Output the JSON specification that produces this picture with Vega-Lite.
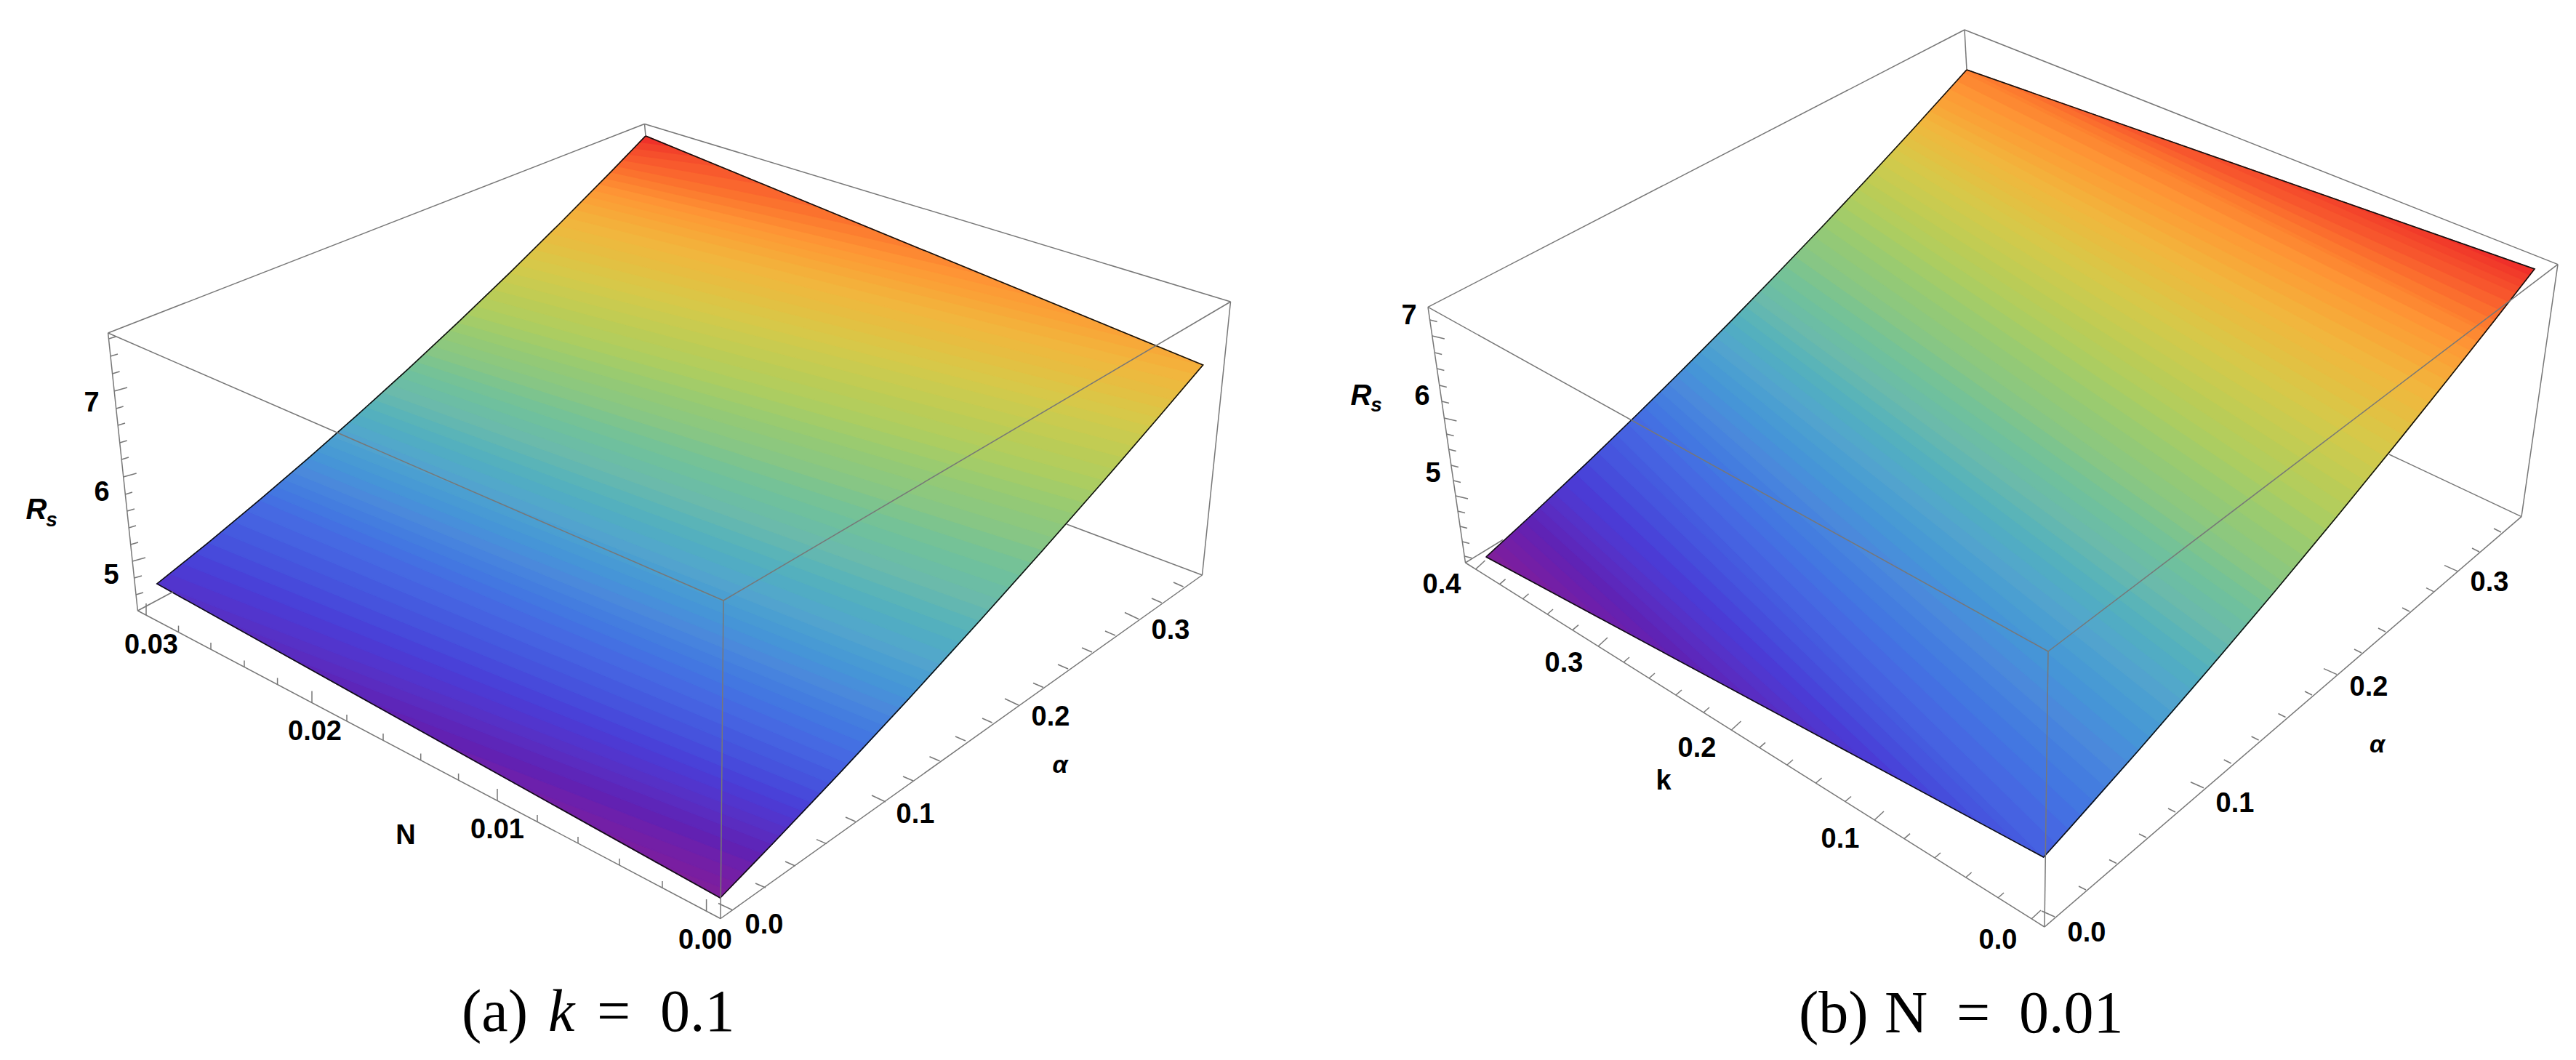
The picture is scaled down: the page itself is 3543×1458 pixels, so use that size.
{"$schema":"https://vega.github.io/schema/vega-lite/v6.json","width":3543,"height":1458,"autosize":{"type":"fit","contains":"padding"},"padding":0,"background":"white","view":{"stroke":null},
"datasets":{
"surface":[
{"p":"a","v":0.008,"x":[990.6,900.7,1001.4,990.6],"y":[1235,1185.2,1223.9,1235]},
{"p":"a","v":0.023,"x":[900.7,811.4,1012.1,1001.4],"y":[1185.2,1135.3,1212.9,1223.9]},
{"p":"a","v":0.039,"x":[811.4,707.2,1024.7,1012.1],"y":[1135.3,1077.2,1199.9,1212.9]},
{"p":"a","v":0.056,"x":[707.2,603,1037.3,1024.7],"y":[1077.2,1019,1186.8,1199.9]},
{"p":"a","v":0.074,"x":[603,498.8,1049.8,1037.3],"y":[1019,960.9,1173.9,1186.8]},
{"p":"a","v":0.091,"x":[498.8,394.6,1062.4,1049.8],"y":[960.9,902.7,1160.8,1173.9]},
{"p":"a","v":0.108,"x":[394.6,305.3,1073.1,1062.4],"y":[902.7,852.9,1149.6,1160.8]},
{"p":"a","v":0.123,"x":[305.3,216,1083.9,1073.1],"y":[852.9,803,1138.3,1149.6]},
{"p":"a","v":0.138,"x":[216,233.6,1094.7,1083.9],"y":[803,789,1126.9,1138.3]},
{"p":"a","v":0.153,"x":[233.6,251.3,1105.4,1094.7],"y":[789,774.8,1115.7,1126.9]},
{"p":"a","v":0.168,"x":[251.3,269,1116.8,1105.4],"y":[774.8,760.5,1103.7,1115.7]},
{"p":"a","v":0.183,"x":[269,286.5,1129.4,1116.8],"y":[760.5,746.3,1090.4,1103.7]},
{"p":"a","v":0.198,"x":[286.5,304.1,1142,1129.4],"y":[746.3,731.8,1077,1090.4]},
{"p":"a","v":0.213,"x":[304.1,321.8,1154.6,1142],"y":[731.8,717.2,1063.6,1077]},
{"p":"a","v":0.228,"x":[321.8,339.4,1167.2,1154.6],"y":[717.2,702.5,1050.2,1063.6]},
{"p":"a","v":0.243,"x":[339.4,357,1179.8,1167.2],"y":[702.5,687.7,1036.8,1050.2]},
{"p":"a","v":0.258,"x":[357,368.3,1192.4,1179.8],"y":[687.7,678.1,1023.2,1036.8]},
{"p":"a","v":0.273,"x":[368.3,379.5,1205,1192.4],"y":[678.1,668.6,1009.7,1023.2]},
{"p":"a","v":0.288,"x":[379.5,390.8,1216.1,1205],"y":[668.6,658.9,997.7,1009.7]},
{"p":"a","v":0.303,"x":[390.8,402,1227.3,1216.1],"y":[658.9,649.3,985.6,997.7]},
{"p":"a","v":0.318,"x":[402,413.3,1238.4,1227.3],"y":[649.3,639.6,973.7,985.6]},
{"p":"a","v":0.333,"x":[413.3,424.5,1249.5,1238.4],"y":[639.6,629.8,961.6,973.7]},
{"p":"a","v":0.348,"x":[424.5,435.8,1260.7,1249.5],"y":[629.8,620,949.4,961.6]},
{"p":"a","v":0.363,"x":[435.8,447,1271.8,1260.7],"y":[620,610.2,937.3,949.4]},
{"p":"a","v":0.378,"x":[447,458.3,1282.9,1271.8],"y":[610.2,600.3,925.1,937.3]},
{"p":"a","v":0.393,"x":[458.3,469.6,1294,1282.9],"y":[600.3,590.2,913,925.1]},
{"p":"a","v":0.408,"x":[469.6,481,1307.4,1294],"y":[590.2,580.1,898.3,913]},
{"p":"a","v":0.423,"x":[481,492.5,1320.9,1307.4],"y":[580.1,569.9,883.4,898.3]},
{"p":"a","v":0.438,"x":[492.5,503.9,1334.3,1320.9],"y":[569.9,559.7,868.6,883.4]},
{"p":"a","v":0.453,"x":[503.9,515.2,1347.8,1334.3],"y":[559.7,549.5,853.5,868.6]},
{"p":"a","v":0.468,"x":[515.2,526.7,1361.2,1347.8],"y":[549.5,539.1,838.7,853.5]},
{"p":"a","v":0.483,"x":[526.7,538,1374.6,1361.2],"y":[539.1,528.8,823.8,838.7]},
{"p":"a","v":0.498,"x":[538,549.6,1388.7,1374.6],"y":[528.8,518.2,808,823.8]},
{"p":"a","v":0.513,"x":[549.6,561,1404,1388.7],"y":[518.2,507.8,790.8,808]},
{"p":"a","v":0.528,"x":[561,572.6,1419.3,1404],"y":[507.8,497.1,773.6,790.8]},
{"p":"a","v":0.543,"x":[572.6,584,1434.5,1419.3],"y":[497.1,486.5,756.5,773.6]},
{"p":"a","v":0.558,"x":[584,595.7,1449.8,1434.5],"y":[486.5,475.6,739.1,756.5]},
{"p":"a","v":0.573,"x":[595.7,607,1465,1449.8],"y":[475.6,465.1,721.9,739.1]},
{"p":"a","v":0.588,"x":[607,618.8,1478.5,1465],"y":[465.1,453.9,706.5,721.9]},
{"p":"a","v":0.603,"x":[618.8,630,1492,1478.5],"y":[453.9,443.3,691.2,706.5]},
{"p":"a","v":0.618,"x":[630,642,1505.5,1492],"y":[443.3,432,675.6,691.2]},
{"p":"a","v":0.633,"x":[642,654,1519,1505.5],"y":[432,420.5,660.2,675.6]},
{"p":"a","v":0.648,"x":[654,666,1532.5,1519],"y":[420.5,409.1,644.6,660.2]},
{"p":"a","v":0.663,"x":[666,678,1546,1532.5],"y":[409.1,397.5,629,644.6]},
{"p":"a","v":0.678,"x":[678,689.8,1559.5,1546],"y":[397.5,386.1,613.3,629]},
{"p":"a","v":0.693,"x":[689.8,701.5,1573,1559.5],"y":[386.1,374.8,597.7,613.3]},
{"p":"a","v":0.708,"x":[701.5,712.5,1583.2,1573],"y":[374.8,364.1,585.8,597.7]},
{"p":"a","v":0.723,"x":[712.5,723.5,1593.4,1583.2],"y":[364.1,353.3,573.9,585.8]},
{"p":"a","v":0.738,"x":[723.5,734.6,1603.6,1593.4],"y":[353.3,342.5,562,573.9]},
{"p":"a","v":0.753,"x":[734.6,745.6,1613.8,1603.6],"y":[342.5,331.5,550,562]},
{"p":"a","v":0.768,"x":[745.6,756.6,1624,1613.8],"y":[331.5,320.6,538.1,550]},
{"p":"a","v":0.783,"x":[756.6,767.6,1634.2,1624],"y":[320.6,309.7,526,538.1]},
{"p":"a","v":0.798,"x":[767.6,778.7,1644.4,1634.2],"y":[309.7,298.6,514.1,526]},
{"p":"a","v":0.813,"x":[778.7,789.7,1654.6,1644.4],"y":[298.6,287.6,502,514.1]},
{"p":"a","v":0.828,"x":[789.7,799.7,1578,1654.6],"y":[287.6,277.5,470.5,502]},
{"p":"a","v":0.843,"x":[799.7,807.7,1501.8,1578],"y":[277.5,269.5,439.2,470.5]},
{"p":"a","v":0.858,"x":[807.7,815.7,1425.4,1501.8],"y":[269.5,261.3,407.8,439.2]},
{"p":"a","v":0.873,"x":[815.7,824,1350,1425.4],"y":[261.3,252.8,376.8,407.8]},
{"p":"a","v":0.888,"x":[824,832,1275,1350],"y":[252.8,244.7,346,376.8]},
{"p":"a","v":0.903,"x":[832,840,1200,1275],"y":[244.7,236.6,315.2,346]},
{"p":"a","v":0.918,"x":[840,848,1125,1200],"y":[236.6,228.4,284.4,315.2]},
{"p":"a","v":0.933,"x":[848,856,1050,1125],"y":[228.4,220.1,253.6,284.4]},
{"p":"a","v":0.948,"x":[856,864,988.8,1050],"y":[220.1,211.9,228.4,253.6]},
{"p":"a","v":0.963,"x":[864,872,955.2,988.8],"y":[211.9,203.7,214.6,228.4]},
{"p":"a","v":0.978,"x":[872,880,921.6,955.2],"y":[203.7,195.3,200.8,214.6]},
{"p":"a","v":0.993,"x":[880,888,888,921.6],"y":[195.3,187,187,200.8]},
{"p":"b","v":0.008,"x":[2044,2054.5,2096.3,2044],"y":[766,756.4,794.2,766]},
{"p":"b","v":0.023,"x":[2054.5,2065,2148.6,2096.3],"y":[756.4,746.8,822.3,794.2]},
{"p":"b","v":0.038,"x":[2065,2075.5,2200.8,2148.6],"y":[746.8,737.1,850.5,822.3]},
{"p":"b","v":0.053,"x":[2075.5,2086,2253.1,2200.8],"y":[737.1,727.5,878.6,850.5]},
{"p":"b","v":0.068,"x":[2086,2096.5,2305.4,2253.1],"y":[727.5,717.8,906.8,878.6]},
{"p":"b","v":0.083,"x":[2096.5,2107,2357.7,2305.4],"y":[717.8,708,934.9,906.8]},
{"p":"b","v":0.098,"x":[2107,2117.5,2409.9,2357.7],"y":[708,698.3,963.1,934.9]},
{"p":"b","v":0.113,"x":[2117.5,2128,2462.2,2409.9],"y":[698.3,688.4,991.2,963.1]},
{"p":"b","v":0.128,"x":[2128,2138.5,2514.5,2462.2],"y":[688.4,678.5,1019.4,991.2]},
{"p":"b","v":0.143,"x":[2138.5,2152.2,2566.8,2514.5],"y":[678.5,665.7,1047.6,1019.4]},
{"p":"b","v":0.158,"x":[2152.2,2167.5,2619,2566.8],"y":[665.7,651.1,1075.7,1047.6]},
{"p":"b","v":0.173,"x":[2167.5,2182.8,2671.3,2619],"y":[651.1,636.6,1103.9,1075.7]},
{"p":"b","v":0.188,"x":[2182.8,2198.1,2723.6,2671.3],"y":[636.6,622,1132,1103.9]},
{"p":"b","v":0.203,"x":[2198.1,2213.4,2775.9,2723.6],"y":[622,607.2,1160.2,1132]},
{"p":"b","v":0.215,"x":[2213.4,2223.6,2810.7,2775.9],"y":[607.2,597.4,1179,1160.2]},
{"p":"b","v":0.228,"x":[2223.6,2238.9,2828,2810.7],"y":[597.4,582.6,1159.9,1179]},
{"p":"b","v":0.243,"x":[2238.9,2251.3,2845.4,2828],"y":[582.6,570.5,1140.4,1159.9]},
{"p":"b","v":0.258,"x":[2251.3,2262.2,2862.7,2845.4],"y":[570.5,559.9,1121.1,1140.4]},
{"p":"b","v":0.273,"x":[2262.2,2273.2,2880,2862.7],"y":[559.9,549.1,1101.7,1121.1]},
{"p":"b","v":0.288,"x":[2273.2,2284.1,2896.7,2880],"y":[549.1,538.4,1082.8,1101.7]},
{"p":"b","v":0.303,"x":[2284.1,2295,2911.9,2896.7],"y":[538.4,527.6,1065.6,1082.8]},
{"p":"b","v":0.318,"x":[2295,2305.9,2927.1,2911.9],"y":[527.6,516.8,1048.4,1065.6]},
{"p":"b","v":0.333,"x":[2305.9,2316.8,2942.3,2927.1],"y":[516.8,505.9,1031,1048.4]},
{"p":"b","v":0.348,"x":[2316.8,2327.8,2957.5,2942.3],"y":[505.9,495.1,1013.7,1031]},
{"p":"b","v":0.363,"x":[2327.8,2338.7,2972.7,2957.5],"y":[495.1,484.1,996.2,1013.7]},
{"p":"b","v":0.378,"x":[2338.7,2349.4,2987.9,2972.7],"y":[484.1,473.4,978.7,996.2]},
{"p":"b","v":0.393,"x":[2349.4,2359.7,3001.6,2987.9],"y":[473.4,463,962.8,978.7]},
{"p":"b","v":0.408,"x":[2359.7,2370,3014.5,3001.6],"y":[463,452.6,948,962.8]},
{"p":"b","v":0.423,"x":[2370,2380.3,3027.4,3014.5],"y":[452.6,442.1,932.9,948]},
{"p":"b","v":0.438,"x":[2380.3,2390.6,3040.3,3027.4],"y":[442.1,431.6,917.8,932.9]},
{"p":"b","v":0.453,"x":[2390.6,2400.9,3053.2,3040.3],"y":[431.6,421.1,902.7,917.8]},
{"p":"b","v":0.468,"x":[2400.9,2411.2,3066.1,3053.2],"y":[421.1,410.6,887.6,902.7]},
{"p":"b","v":0.483,"x":[2411.2,2421.4,3079,3066.1],"y":[410.6,400.1,872.4,887.6]},
{"p":"b","v":0.498,"x":[2421.4,2431.7,3091.3,3079],"y":[400.1,389.5,857.9,872.4]},
{"p":"b","v":0.513,"x":[2431.7,2442,3103.6,3091.3],"y":[389.5,378.8,843.3,857.9]},
{"p":"b","v":0.528,"x":[2442,2455.1,3115.8,3103.6],"y":[378.8,365.3,828.8,843.3]},
{"p":"b","v":0.543,"x":[2455.1,2468.2,3128.1,3115.8],"y":[365.3,351.6,814.2,828.8]},
{"p":"b","v":0.558,"x":[2468.2,2481.3,3140.4,3128.1],"y":[351.6,337.9,799.5,814.2]},
{"p":"b","v":0.573,"x":[2481.3,2494.4,3154.6,3140.4],"y":[337.9,324.2,782.5,799.5]},
{"p":"b","v":0.588,"x":[2494.4,2507.5,3169.7,3154.6],"y":[324.2,310.5,764.4,782.5]},
{"p":"b","v":0.603,"x":[2507.5,2520.5,3184.9,3169.7],"y":[310.5,296.7,746.1,764.4]},
{"p":"b","v":0.618,"x":[2520.5,2533.6,3200,3184.9],"y":[296.7,282.8,727.8,746.1]},
{"p":"b","v":0.633,"x":[2533.6,2545,3214,3200],"y":[282.8,270.6,710.8,727.8]},
{"p":"b","v":0.648,"x":[2545,2555.6,3227.5,3214],"y":[270.6,259.3,694.4,710.8]},
{"p":"b","v":0.663,"x":[2555.6,2566.2,3241,3227.5],"y":[259.3,248,677.8,694.4]},
{"p":"b","v":0.678,"x":[2566.2,2576.8,3254.5,3241],"y":[248,236.6,661.3,677.8]},
{"p":"b","v":0.693,"x":[2576.8,2587.4,3268,3254.5],"y":[236.6,225.1,644.7,661.3]},
{"p":"b","v":0.708,"x":[2587.4,2598,3281.5,3268],"y":[225.1,213.7,628.1,644.7]},
{"p":"b","v":0.723,"x":[2598,2606.8,3294,3281.5],"y":[213.7,204.2,612.6,628.1]},
{"p":"b","v":0.738,"x":[2606.8,2614.7,3306,3294],"y":[204.2,195.5,597.7,612.6]},
{"p":"b","v":0.753,"x":[2614.7,2622.7,3318,3306],"y":[195.5,186.9,582.9,597.7]},
{"p":"b","v":0.768,"x":[2622.7,2630.6,3330,3318],"y":[186.9,178.3,567.9,582.9]},
{"p":"b","v":0.783,"x":[2630.6,2638.6,3342,3330],"y":[178.3,169.5,552.9,567.9]},
{"p":"b","v":0.798,"x":[2638.6,2646.5,3354,3342],"y":[169.5,160.8,537.9,552.9]},
{"p":"b","v":0.813,"x":[2646.5,2654.4,3366,3354],"y":[160.8,152,522.8,537.9]},
{"p":"b","v":0.828,"x":[2654.4,2662.4,3378,3366],"y":[152,143.3,507.6,522.8]},
{"p":"b","v":0.843,"x":[2662.4,2671.7,3388.6,3378],"y":[143.3,133,494.3,507.6]},
{"p":"b","v":0.858,"x":[2671.7,2681.7,3398.5,3388.6],"y":[133,122,481.8,494.3]},
{"p":"b","v":0.873,"x":[2681.7,2691.7,3408.4,3398.5],"y":[122,110.9,469.2,481.8]},
{"p":"b","v":0.888,"x":[2691.7,2701.7,3418.3,3408.4],"y":[110.9,99.7,456.7,469.2]},
{"p":"b","v":0.898,"x":[2701.7,2705,3421.6,3418.3],"y":[99.7,96,452.6,456.7]},
{"p":"b","v":0.908,"x":[2705,2763.5,3431.5,3421.6],"y":[96,116.5,439.9,452.6]},
{"p":"b","v":0.923,"x":[2763.5,2822,3441.4,3431.5],"y":[116.5,137,427.3,439.9]},
{"p":"b","v":0.938,"x":[2822,2880.5,3451.2,3441.4],"y":[137,157.6,414.7,427.3]},
{"p":"b","v":0.953,"x":[2880.5,3008.9,3460.7,3451.2],"y":[157.6,202.6,402.6,414.7]},
{"p":"b","v":0.965,"x":[3008.9,3117.7,3467,3460.7],"y":[202.6,240.8,394.4,402.6]},
{"p":"b","v":0.975,"x":[3117.7,3226.6,3473.4,3467],"y":[240.8,279,386.3,394.4]},
{"p":"b","v":0.985,"x":[3226.6,3349,3479.7,3473.4],"y":[279,321.9,378.1,386.3]},
{"p":"b","v":0.995,"x":[3349,3486,3486,3479.7],"y":[321.9,370,370,378.1]}
],
"edges":[
{"p":"a","x":990.6,"y":1235},{"p":"a","x":216,"y":803},{"p":"a","x":286.5,"y":746.3},{"p":"a","x":357,"y":687.7},{"p":"a","x":424.5,"y":629.8},{"p":"a","x":492.5,"y":569.9},{"p":"a","x":561,"y":507.8},{"p":"a","x":630,"y":443.3},{"p":"a","x":701.5,"y":374.8},{"p":"a","x":767.6,"y":309.7},{"p":"a","x":840,"y":236.6},{"p":"a","x":888,"y":187},{"p":"a","x":1654.6,"y":502},{"p":"a","x":1593.4,"y":573.9},{"p":"a","x":1519,"y":660.2},{"p":"a","x":1434.5,"y":756.5},{"p":"a","x":1347.8,"y":853.5},{"p":"a","x":1249.5,"y":961.6},{"p":"a","x":1154.6,"y":1063.6},{"p":"a","x":1062.4,"y":1160.8},{"p":"a","x":990.6,"y":1235},
{"p":"b","x":2044,"y":766},{"p":"b","x":2107,"y":708},{"p":"b","x":2182.8,"y":636.6},{"p":"b","x":2251.3,"y":570.5},{"p":"b","x":2316.8,"y":505.9},{"p":"b","x":2380.3,"y":442.1},{"p":"b","x":2442,"y":378.8},{"p":"b","x":2507.5,"y":310.5},{"p":"b","x":2566.2,"y":248},{"p":"b","x":2630.6,"y":178.3},{"p":"b","x":2705,"y":96},{"p":"b","x":3486,"y":370},{"p":"b","x":3431.5,"y":439.9},{"p":"b","x":3366,"y":522.8},{"p":"b","x":3294,"y":612.6},{"p":"b","x":3214,"y":710.8},{"p":"b","x":3128.1,"y":814.2},{"p":"b","x":3040.3,"y":917.8},{"p":"b","x":2942.3,"y":1031},{"p":"b","x":2845.4,"y":1140.4},{"p":"b","x":2810.7,"y":1179},{"p":"b","x":2044,"y":766}
],
"wire":[
{"x":886.5,"y":170.5,"x2":148.6,"y2":458},{"x":886.5,"y":170.5,"x2":1692.5,"y2":415},{"x":886.5,"y":170.5,"x2":888,"y2":187},{"x":148.6,"y":458,"x2":995,"y2":826},{"x":1692.5,"y":415,"x2":995,"y2":826},{"x":995,"y":826,"x2":991,"y2":1263.5},{"x":148.6,"y":458,"x2":189.4,"y2":840},{"x":1692.5,"y":415,"x2":1653.5,"y2":791},{"x":189.4,"y":840,"x2":991,"y2":1263.5},{"x":991,"y":1263.5,"x2":1653.5,"y2":791},{"x":1653.5,"y":791,"x2":1467,"y2":721},{"x":189.4,"y":840,"x2":238,"y2":814},
{"x":2702,"y":41,"x2":1964,"y2":422.4},{"x":2702,"y":41,"x2":3518,"y2":363.6},{"x":2702,"y":41,"x2":2705,"y2":96},{"x":1964,"y":422.4,"x2":2817,"y2":896},{"x":3518,"y":363.6,"x2":2817,"y2":896},{"x":2817,"y":896,"x2":2812,"y2":1275},{"x":1964,"y":422.4,"x2":2015.5,"y2":774},{"x":3518,"y":363.6,"x2":3468,"y2":710.6},{"x":2015.5,"y":774,"x2":2812,"y2":1275},{"x":2812,"y":1275,"x2":3468,"y2":710.6},{"x":3468,"y":710.6,"x2":3286,"y2":625},{"x":2015.5,"y":774,"x2":2067,"y2":742.5},
{"x":201,"y":846,"x2":201,"y2":830},{"x":245.5,"y":869.6,"x2":245.5,"y2":860.6},{"x":290,"y":893,"x2":290,"y2":884},{"x":336,"y":917.4,"x2":336,"y2":908.4},{"x":381.6,"y":941.5,"x2":381.6,"y2":932.5},{"x":429,"y":966.5,"x2":429,"y2":950.5},{"x":477,"y":992,"x2":477,"y2":983},{"x":527,"y":1018,"x2":527,"y2":1009},{"x":578.7,"y":1045.5,"x2":578.7,"y2":1036.5},{"x":630.6,"y":1073,"x2":630.6,"y2":1064},{"x":684,"y":1101,"x2":684,"y2":1085},{"x":739,"y":1130,"x2":739,"y2":1121},{"x":795,"y":1160,"x2":795,"y2":1151},{"x":852,"y":1190,"x2":852,"y2":1181},{"x":911,"y":1221,"x2":911,"y2":1212},{"x":971.6,"y":1253,"x2":971.6,"y2":1237},
{"x":1007,"y":1251.5,"x2":988,"y2":1242.5},{"x":1053,"y":1221,"x2":1039,"y2":1215},{"x":1093.6,"y":1191,"x2":1080,"y2":1185},{"x":1137,"y":1160.6,"x2":1123,"y2":1154.6},{"x":1176.6,"y":1130,"x2":1163,"y2":1124},{"x":1218,"y":1103,"x2":1199,"y2":1094},{"x":1256,"y":1074,"x2":1242,"y2":1068},{"x":1292.5,"y":1046.7,"x2":1278.5,"y2":1040.7},{"x":1328,"y":1019,"x2":1314,"y2":1013},{"x":1364.6,"y":994,"x2":1351,"y2":988},{"x":1401,"y":970,"x2":1382,"y2":961},{"x":1435,"y":945.5,"x2":1421,"y2":939.5},{"x":1469,"y":920,"x2":1455,"y2":914},{"x":1502,"y":897,"x2":1488,"y2":891},{"x":1534,"y":874,"x2":1520,"y2":868},{"x":1566,"y":851.5,"x2":1547,"y2":842.5},{"x":1597.7,"y":829,"x2":1584,"y2":823},{"x":1627.5,"y":807,"x2":1614,"y2":801},
{"x":149.5,"y":466,"x2":159.5,"y2":463},{"x":152,"y":490,"x2":162,"y2":487},{"x":154.6,"y":514,"x2":164.6,"y2":511},{"x":157.1,"y":538,"x2":175,"y2":533},{"x":159.7,"y":562,"x2":169.7,"y2":559},{"x":162.2,"y":585,"x2":172,"y2":582},{"x":164.7,"y":609,"x2":174.7,"y2":606},{"x":167.2,"y":632,"x2":177,"y2":629},{"x":169.7,"y":656,"x2":187.7,"y2":651},{"x":172.3,"y":680,"x2":182,"y2":677},{"x":174.8,"y":703,"x2":185,"y2":700},{"x":177.2,"y":726,"x2":187,"y2":723},{"x":179.7,"y":749,"x2":190,"y2":746},{"x":182.1,"y":772,"x2":200,"y2":767},{"x":184.6,"y":795,"x2":195,"y2":792},{"x":187,"y":818,"x2":197,"y2":815},
{"x":2029.5,"y":783,"x2":2042.5,"y2":771},{"x":2062.6,"y":803.6,"x2":2070.6,"y2":796.6},{"x":2094.5,"y":823.7,"x2":2102.5,"y2":816.7},{"x":2128,"y":845,"x2":2136,"y2":838},{"x":2162.8,"y":866.6,"x2":2171,"y2":859.6},{"x":2198,"y":889,"x2":2211,"y2":877},{"x":2233,"y":911,"x2":2241,"y2":904},{"x":2268,"y":933,"x2":2276,"y2":926},{"x":2305,"y":956,"x2":2313,"y2":949},{"x":2343,"y":980,"x2":2351,"y2":973},{"x":2381.5,"y":1004,"x2":2394.5,"y2":992},{"x":2420,"y":1028.4,"x2":2428,"y2":1021.4},{"x":2458,"y":1052,"x2":2466,"y2":1045},{"x":2497.6,"y":1077,"x2":2505.6,"y2":1070},{"x":2537.8,"y":1102.5,"x2":2546,"y2":1095.5},{"x":2578,"y":1128,"x2":2591,"y2":1116},{"x":2619,"y":1153.6,"x2":2627,"y2":1146.6},{"x":2661,"y":1180,"x2":2669,"y2":1173},{"x":2703.6,"y":1207,"x2":2711.6,"y2":1200},{"x":2748,"y":1235,"x2":2756,"y2":1228},{"x":2794,"y":1264,"x2":2807,"y2":1252},
{"x":2826,"y":1261,"x2":2808,"y2":1253},{"x":2869,"y":1224,"x2":2859,"y2":1219},{"x":2911,"y":1187.5,"x2":2901,"y2":1182.5},{"x":2952,"y":1152,"x2":2942,"y2":1147},{"x":2992,"y":1117,"x2":2982,"y2":1112},{"x":3031,"y":1083.7,"x2":3013,"y2":1075.7},{"x":3068.7,"y":1050,"x2":3058.7,"y2":1045},{"x":3106.6,"y":1018,"x2":3096.6,"y2":1013},{"x":3143.5,"y":986.5,"x2":3133.5,"y2":981.5},{"x":3180,"y":956,"x2":3170,"y2":951},{"x":3214,"y":927.6,"x2":3196,"y2":919.6},{"x":3248,"y":898,"x2":3238,"y2":893},{"x":3281,"y":869,"x2":3271,"y2":864},{"x":3314,"y":841,"x2":3304,"y2":836},{"x":3347,"y":813.7,"x2":3337,"y2":808.7},{"x":3380,"y":785.6,"x2":3362,"y2":777.6},{"x":3410,"y":759,"x2":3400,"y2":754},{"x":3440,"y":732,"x2":3430,"y2":727},
{"x":1966.6,"y":440,"x2":1976.6,"y2":442.5},{"x":1969.8,"y":462,"x2":1986.8,"y2":466},{"x":1973.2,"y":485,"x2":1983.2,"y2":487.5},{"x":1976.4,"y":507,"x2":1986.4,"y2":509.5},{"x":1979.8,"y":530,"x2":1989.8,"y2":532.5},{"x":1983,"y":552,"x2":1993,"y2":554.5},{"x":1986.4,"y":575,"x2":2003.4,"y2":579},{"x":1989.6,"y":597,"x2":1999.6,"y2":599.5},{"x":1992.7,"y":618,"x2":2002.7,"y2":620.5},{"x":1995.9,"y":640,"x2":2005.9,"y2":642.5},{"x":1999,"y":661,"x2":2009,"y2":663.5},{"x":2002,"y":682,"x2":2019,"y2":686},{"x":2005,"y":703,"x2":2015,"y2":705.5},{"x":2008.2,"y":724,"x2":2018,"y2":726.5},{"x":2011.3,"y":745,"x2":2021,"y2":747.5},{"x":2014.2,"y":765,"x2":2024,"y2":767.5}
],
"ticklabels":[
{"t":"7","x":126,"y":555},{"t":"6","x":140,"y":678},{"t":"5","x":153,"y":792},{"t":"0.03","x":208,"y":888},{"t":"0.02","x":433,"y":1007},{"t":"0.01","x":684,"y":1142},{"t":"N","x":558,"y":1150},{"t":"0.00","x":970,"y":1294},{"t":"0.0","x":1051,"y":1273},{"t":"0.1","x":1259,"y":1121},{"t":"0.2","x":1445,"y":987},{"t":"0.3","x":1610,"y":868},
{"t":"7","x":1938,"y":435},{"t":"6","x":1956,"y":546},{"t":"5","x":1971,"y":652},{"t":"0.4","x":1983,"y":805},{"t":"0.3","x":2151,"y":913},{"t":"0.2","x":2334,"y":1030},{"t":"k","x":2288,"y":1075},{"t":"0.1","x":2531,"y":1155},{"t":"0.0","x":2748,"y":1294},{"t":"0.0","x":2870,"y":1284},{"t":"0.1","x":3074,"y":1106},{"t":"0.2","x":3258,"y":946},{"t":"0.3","x":3424,"y":802}
],
"alpha":[{"t":"α","x":1458,"y":1053},{"t":"α","x":3269.5,"y":1025}],
"rs":[{"t":"R","x":50,"y":702},{"t":"R","x":1872,"y":545}],
"rsub":[{"t":"s","x":71,"y":716},{"t":"s","x":1893,"y":558}],
"caption":[{"t":"(a)","x":635,"y":1418},{"t":"=","x":821,"y":1418},{"t":"0.1","x":908,"y":1418},{"t":"(b)","x":2474,"y":1420},{"t":"N","x":2592,"y":1420},{"t":"=","x":2691,"y":1420},{"t":"0.01","x":2777,"y":1420}],
"captionit":[{"t":"k","x":754,"y":1418}]
},
"encoding":{
"x":{"field":"x","type":"quantitative","axis":null,"scale":{"domain":[0,3543],"nice":false,"zero":false}},
"y":{"field":"y","type":"quantitative","axis":null,"scale":{"domain":[1458,0],"nice":false,"zero":false}}
},
"layer":[
{"data":{"name":"surface"},"transform":[{"flatten":["x","y"]}],"mark":{"type":"line","filled":true,"strokeWidth":1.5,"interpolate":"linear-closed"},
"encoding":{"detail":{"field":"p"},"order":{"value":null},
"fill":{"field":"v","type":"quantitative","legend":null,"scale":{"domain":[0,0.08,0.16,0.24,0.32,0.4,0.48,0.56,0.64,0.72,0.8,0.87,0.94,1],"range":["#801F9A","#5F22B4","#4A3CD6","#4768E2","#4C8ADB","#55A5CC","#6BB9AC","#88C684","#B0CD5E","#D6C94A","#F2B53E","#FE9636","#F9602E","#EE2A2A"]}},
"stroke":{"field":"v","type":"quantitative","legend":null,"scale":{"domain":[0,0.08,0.16,0.24,0.32,0.4,0.48,0.56,0.64,0.72,0.8,0.87,0.94,1],"range":["#801F9A","#5F22B4","#4A3CD6","#4768E2","#4C8ADB","#55A5CC","#6BB9AC","#88C684","#B0CD5E","#D6C94A","#F2B53E","#FE9636","#F9602E","#EE2A2A"]}}}},
{"data":{"name":"edges"},"mark":{"type":"line","stroke":"#111111","strokeWidth":1.6},"encoding":{"detail":{"field":"p"},"order":{"value":null}}},
{"data":{"name":"wire"},"mark":{"type":"rule","stroke":"#777777","strokeWidth":1.5},"encoding":{"x2":{"field":"x2"},"y2":{"field":"y2"}}},
{"data":{"name":"ticklabels"},"mark":{"type":"text","font":"Liberation Sans","fontWeight":"bold","fontSize":38,"align":"center","baseline":"middle","color":"black"},"encoding":{"text":{"field":"t"}}},
{"data":{"name":"alpha"},"mark":{"type":"text","font":"Liberation Sans","fontStyle":"italic","fontWeight":"bold","fontSize":34,"align":"center","baseline":"middle","color":"black"},"encoding":{"text":{"field":"t"}}},
{"data":{"name":"rs"},"mark":{"type":"text","font":"Liberation Sans","fontStyle":"italic","fontWeight":"bold","fontSize":40,"align":"center","baseline":"middle","color":"black"},"encoding":{"text":{"field":"t"}}},
{"data":{"name":"rsub"},"mark":{"type":"text","font":"Liberation Sans","fontStyle":"italic","fontWeight":"bold","fontSize":28,"align":"center","baseline":"middle","color":"black"},"encoding":{"text":{"field":"t"}}},
{"data":{"name":"caption"},"mark":{"type":"text","font":"Liberation Serif","fontSize":82,"align":"left","baseline":"alphabetic","color":"black"},"encoding":{"text":{"field":"t"}}},
{"data":{"name":"captionit"},"mark":{"type":"text","font":"Liberation Serif","fontStyle":"italic","fontSize":82,"align":"left","baseline":"alphabetic","color":"black"},"encoding":{"text":{"field":"t"}}}
]
}
